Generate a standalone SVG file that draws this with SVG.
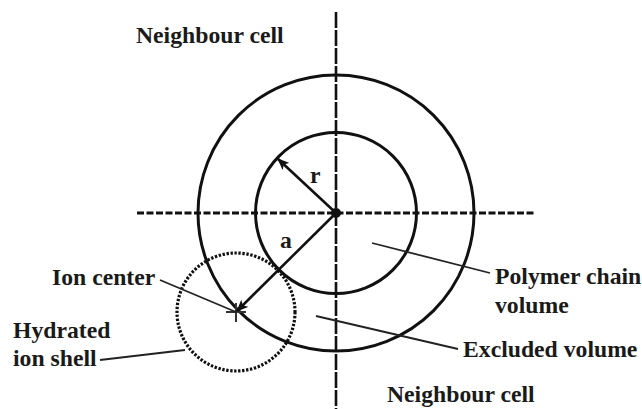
<svg xmlns="http://www.w3.org/2000/svg" width="642" height="409" viewBox="0 0 642 409">
<style>
.t{font-family:"Liberation Serif","Times New Roman",serif;font-weight:bold;font-size:23.7px;fill:#1a1a1a}
.c{fill:none;stroke:#111;stroke-width:3}
.ld{stroke:#222;stroke-width:1.8;fill:none}
.ar{stroke:#111;stroke-width:2.6;fill:none}
</style>
<defs>
<marker id="ah" viewBox="0 0 12 10" refX="11" refY="5" markerWidth="12" markerHeight="10" markerUnits="userSpaceOnUse" orient="auto">
<path d="M0,0 L12,5 L0,10 L3,5 Z" fill="#111"/>
</marker>
</defs>
<g id="axes">
<line x1="137" y1="213" x2="536" y2="213" stroke="#111" stroke-width="3" stroke-dasharray="7 2.5"/>
<line x1="336" y1="12" x2="336" y2="409" stroke="#111" stroke-width="2.6" stroke-dasharray="16 2"/>
</g>
<g id="outer-circle"><circle class="c" cx="336" cy="213" r="138"/></g>
<g id="inner-circle"><circle class="c" cx="336" cy="213" r="80.5"/></g>
<g id="ion-shell"><circle cx="236" cy="312" r="59" fill="none" stroke="#111" stroke-width="3.2" stroke-dasharray="2.4 1.6"/></g>
<g id="ion-center">
<line x1="236" y1="303" x2="236" y2="322" stroke="#333" stroke-width="2"/>
<line x1="226" y1="312" x2="246" y2="312" stroke="#333" stroke-width="2"/>
</g>
<g id="center-dot"><circle cx="336" cy="213" r="5" fill="#111"/></g>
<g id="connectors">
<line class="ar" x1="336" y1="213" x2="278" y2="159" marker-end="url(#ah)"/>
<line class="ar" x1="336" y1="213" x2="237" y2="311" marker-end="url(#ah)"/>
<line class="ld" x1="160" y1="280" x2="236" y2="312"/>
<line class="ld" x1="100" y1="360" x2="185" y2="350"/>
<line class="ld" x1="372" y1="243" x2="490" y2="273"/>
<line class="ld" x1="316" y1="316" x2="458" y2="349"/>
</g>
<g id="labels">
<text class="t" x="136" y="43">Neighbour cell</text>
<text class="t" x="387" y="402">Neighbour cell</text>
<text class="t" x="310" y="183">r</text>
<text class="t" x="280" y="248">a</text>
<text class="t" x="52" y="285">Ion center</text>
<text class="t" x="13" y="338">Hydrated</text>
<text class="t" x="13" y="366">ion shell</text>
<text class="t" x="495" y="284">Polymer chain</text>
<text class="t" x="495" y="313">volume</text>
<text class="t" x="463" y="357">Excluded volume</text>
</g>
</svg>
